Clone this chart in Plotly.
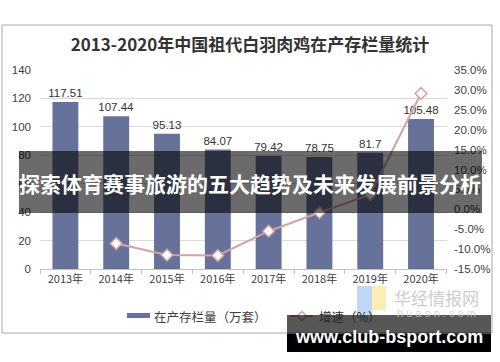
import plotly.graph_objects as go

years = ["2013年", "2014年", "2015年", "2016年", "2017年", "2018年", "2019年", "2020年"]
stock = [117.51, 107.44, 95.13, 84.07, 79.42, 78.75, 81.7, 105.48]
growth_years = years[1:]
growth = [-8.6, -11.5, -11.6, -5.5, -0.8, 3.7, 29.1]
left_ticks = [0, 20, 40, 60, 80, 100, 120, 140]
right_ticks = [-15, -10, -5, 0, 5, 10, 15, 20, 25, 30, 35]
right_labels = ["-15.0%", "-10.0%", "-5.0%", "0.0%", "5.0%", "10.0%", "15.0%",
                "20.0%", "25.0%", "30.0%", "35.0%"]
bar_name = "在产存栏量（万套）"
line_name = "增速（%）"

W, H = 500, 362
L, R, T, B = 40, 53, 70, 93
PW, PH = W - L - R, H - T - B

def px(x):
    return (x - L) / PW

def py(y):
    return (H - B - y) / PH

FONT = "Noto Sans CJK SC"
BAR_C = "#67729b"
LINE_C = "#d4a2a2"

fig = go.Figure()
fig.add_trace(go.Bar(
    x=years, y=stock, name=bar_name,
    marker=dict(color=BAR_C, line=dict(width=0)),
    text=[f"{v:g}" for v in stock], textposition="outside",
    constraintext="none",
    textfont=dict(size=11.5, color="#333333", family="Liberation Sans"),
    cliponaxis=False,
))
fig.add_trace(go.Scatter(
    x=growth_years, y=growth, name=line_name, yaxis="y2",
    mode="lines+markers",
    line=dict(color=LINE_C, width=2),
    marker=dict(symbol="diamond", size=9, color="white",
                line=dict(color=LINE_C, width=1.5)),
))

fig.update_layout(
    width=W, height=H,
    margin=dict(l=L, r=R, t=T, b=B, autoexpand=False),
    paper_bgcolor="white", plot_bgcolor="white",
    bargap=0.49,
    showlegend=False,
    title=dict(text="<b>2013-2020年中国祖代白羽肉鸡在产存栏量统计</b>",
               x=0.5, xanchor="center", y=1 - 45 / H, yanchor="middle",
               font=dict(size=17, color="#333333", family=FONT)),
    xaxis=dict(showgrid=False, showline=True, linecolor="#bfbfbf", linewidth=1,
               ticks="outside", ticklen=4, tickcolor="#bfbfbf",
               tickson="boundaries", automargin=False,
               tickfont=dict(size=11, color="#404040", family=FONT)),
    yaxis=dict(range=[0, 140], tickvals=left_ticks, showgrid=True, automargin=False,
               gridcolor="#d9d9d9", gridwidth=1, zeroline=False, showline=False,
               ticklabelstandoff=8,
               tickfont=dict(size=11.5, color="#404040", family="Liberation Sans")),
    yaxis2=dict(range=[-15, 35], tickvals=right_ticks, ticktext=right_labels,
                overlaying="y", side="right", showgrid=False, zeroline=False,
                showline=False, automargin=False, ticklabelstandoff=6,
                tickfont=dict(size=11.5, color="#404040", family="Liberation Sans")),
)

# legend diamond path (paper coords)
dcx, dcy, dr = 302, 316, 4.5
diamond = (f"M {px(dcx)},{py(dcy - dr)} L {px(dcx + dr)},{py(dcy)} "
           f"L {px(dcx)},{py(dcy + dr)} L {px(dcx - dr)},{py(dcy)} Z")

shapes = [
    # chart frame
    dict(type="rect", xref="paper", yref="paper", x0=px(2), x1=px(492), y0=py(333), y1=py(25),
         line=dict(color="#a6a6a6", width=1), fillcolor="rgba(0,0,0,0)", layer="below"),
    # legend swatches
    dict(type="rect", xref="paper", yref="paper", x0=px(127), x1=px(150), y0=py(318), y1=py(313),
         line=dict(width=0), fillcolor=BAR_C),
    dict(type="line", xref="paper", yref="paper", x0=px(290), x1=px(313), y0=py(316), y1=py(316),
         line=dict(color=LINE_C, width=2)),
    dict(type="path", xref="paper", yref="paper", path=diamond,
         line=dict(color=LINE_C, width=1.5), fillcolor="white"),
    # watermark logo
    dict(type="rect", xref="paper", yref="paper", x0=px(357), x1=px(372), y0=py(315), y1=py(286),
         line=dict(width=0), fillcolor="rgba(150,190,240,0.6)"),
    dict(type="rect", xref="paper", yref="paper", x0=px(372), x1=px(386), y0=py(310), y1=py(286),
         line=dict(width=0), fillcolor="rgba(250,225,130,0.6)"),
    # middle banner
    dict(type="rect", xref="paper", yref="paper", x0=px(19), x1=px(482), y0=py(213), y1=py(151),
         line=dict(width=0), fillcolor="rgba(0,0,0,0.58)"),
    # bottom banner
    dict(type="rect", xref="paper", yref="paper", x0=px(287), x1=px(491), y0=py(334), y1=py(315),
         line=dict(width=0), fillcolor="rgba(0,0,0,0.66)"),
    dict(type="rect", xref="paper", yref="paper", x0=px(287), x1=px(491), y0=py(352), y1=py(334),
         line=dict(width=0), fillcolor="black"),
]
fig.update_layout(shapes=shapes)

def ann(text, x, y, font, xanchor="center"):
    return dict(text=text, xref="paper", yref="paper", x=px(x), y=py(y),
                xanchor=xanchor, yanchor="middle", showarrow=False, font=font)

annotations = [
    ann(bar_name, 152, 316, dict(size=12.5, color="#404040", family=FONT), "left"),
    ann(line_name, 317, 316, dict(size=12.5, color="#2a2a2a", family=FONT), "left"),
    ann("华经情报网", 436, 297, dict(size=17, color="rgba(190,190,190,0.8)", family=FONT)),
    ann("h u a o n . c o m", 436, 313, dict(size=11, color="rgba(200,200,200,0.8)", family="Liberation Sans")),
    ann("<b>探索体育赛事旅游的五大趋势及未来发展前景分析</b>", 250, 183,
        dict(size=21, color="white", family=FONT)),
    ann("<b>www.club-bsport.com</b>", 389, 337,
        dict(size=18, color="white", family="Liberation Sans")),
]
fig.update_layout(annotations=annotations)

fig.write_html("out.html", config={"displayModeBar": False},
               post_script="document.body.style.margin='0px';document.body.style.overflow='hidden';")
